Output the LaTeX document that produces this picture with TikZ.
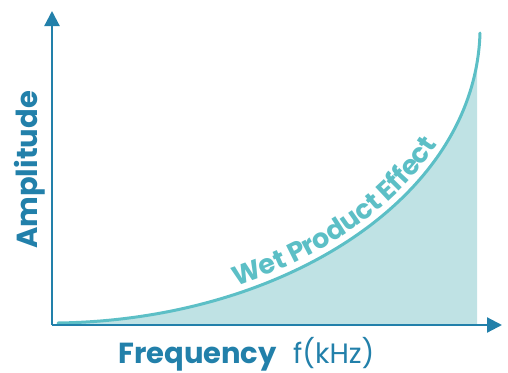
\documentclass[tikz,border=0pt]{standalone}
\usepackage{fontspec}
\setmainfont{Poppins}
\usetikzlibrary{arrows.meta,decorations.text}
\definecolor{axisblue}{HTML}{2280AA}
\definecolor{curveteal}{HTML}{5CBFC6}
\definecolor{fillteal}{HTML}{BFE2E4}
\tikzset{
  axisline/.style={draw=axisblue,line width=2.2pt,-{Triangle[width=15pt,length=15pt]}},
  curveline/.style={draw=curveteal,line width=3pt,line cap=round},
  axislabel/.style={text=axisblue,font=\bfseries\fontsize{29}{33}\selectfont,inner sep=0pt},
  unitlabel/.style={text=axisblue,font=\fontsize{28}{32}\selectfont,inner sep=0pt},
}
\begin{document}
\begin{tikzpicture}[x=1pt,y=-1pt]
\useasboundingbox (0,0) rectangle (508,372);
\def\curvepath{(58,323) .. controls (280,320) and (475,200) .. (480,33)}
\coordinate (origin) at (52,325);
\coordinate (ytop) at (52,11);
\coordinate (xend) at (502,325);
% fill under curve
\begin{scope}
\clip (52,0) rectangle (477,325);
\fill[fillteal] \curvepath -- (480,325) -- (58,325) -- cycle;
\end{scope}
% curve
\draw[curveline] \curvepath;
% text along curve
\path[decorate,decoration={text along path,raise=7pt,
  text align={left indent=184pt},
  text={|\bfseries\fontsize{27}{31}\selectfont\color{curveteal}|Wet Product Effect}}] \curvepath;
% axes
\draw[axisline] (origin.center) -- (ytop);
\draw[axisline] (origin.center) -- (xend);
% labels
\node[axislabel,rotate=90] (amp) at (30,170) {Amplitude};
\node[axislabel,anchor=base west] (freq) at (118,363) {Frequency};
\node[unitlabel,anchor=base west] (unit) at (293,363) {f(kHz)};
\end{tikzpicture}
\end{document}
